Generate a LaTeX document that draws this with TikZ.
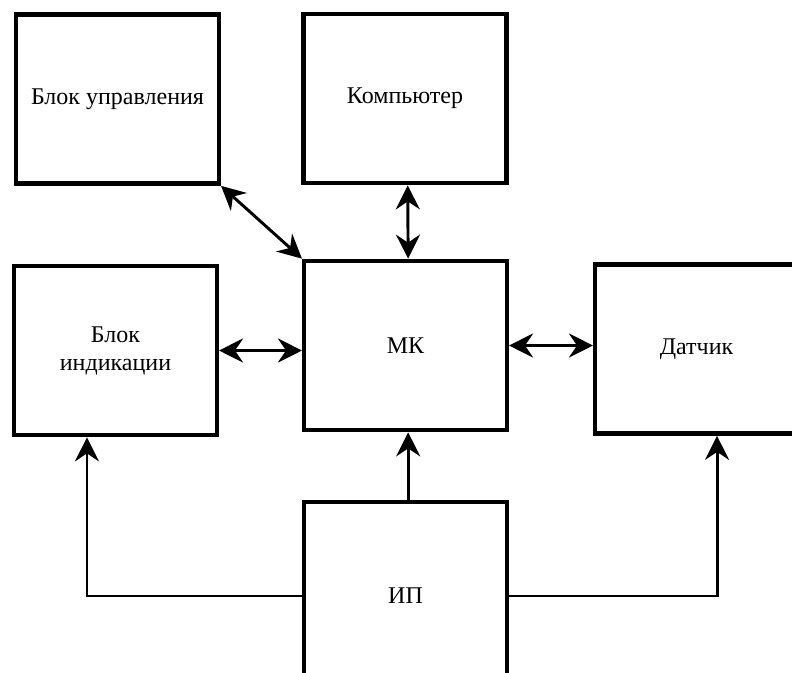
\documentclass[tikz,border=0pt]{standalone}
\usepackage{fontspec}
\setmainfont{Liberation Serif}
\usepackage{tikz}
\usetikzlibrary{arrows.meta}
\colorlet{box_line}{black}
\colorlet{link_line}{black}
\tikzset{
    block/.style={draw=box_line,line width=3.3pt,fill=white,minimum width=152pt,minimum height=127pt,align=center,font=\fontsize{18}{21}\selectfont},
    link/.style={{Stealth[length=18pt,width=18pt,inset=6pt]}-{Stealth[length=18pt,width=18pt,inset=6pt]},line width=2.2pt,link_line},
    feed/.style={-{Stealth[length=18pt,width=18pt,inset=6pt]},line width=2.2pt,link_line},
}

\begin{document}
\begin{tikzpicture}[x=0.75pt,y=-0.75pt]
  \useasboundingbox[fill=white] (0.000,0.000) rectangle (792.000,672.000);
  \clip (0.000,0.000) rectangle (792.000,672.000);
  \node[block] (upr) at (117.500,99.000) {Блок управления};
  \node[block] (comp) at (405.000,98.500) {Компьютер};
  \node[block] (ind) at (115.500,350.500) {Блок\\индикации};
  \node[block] (mk) at (405.500,345.500) {МК};
  \node[block] (dat) at (696.500,349.000) {Датчик};
  \node[block,minimum height=141pt] (ip) at (405.500,596.000) {ИП};
  \draw[link] (upr.south east) -- (mk.north west);
  \draw[link] ([xshift=2pt]comp.south) -- ([xshift=2pt]mk.north);
  \draw[link] (ind.east) -- (ind.east -| mk.west);
  \draw[link] (mk.east) -- (mk.east -| dat.west);
  \draw[feed] ([xshift=2pt]ip.north) -- ([xshift=2pt]mk.south);
  \draw[feed] (ip.west) -| ([xshift=-21.4pt]ind.south);
  \draw[feed] (ip.east) -| ([xshift=15.4pt]dat.south);
\end{tikzpicture}
\end{document}
